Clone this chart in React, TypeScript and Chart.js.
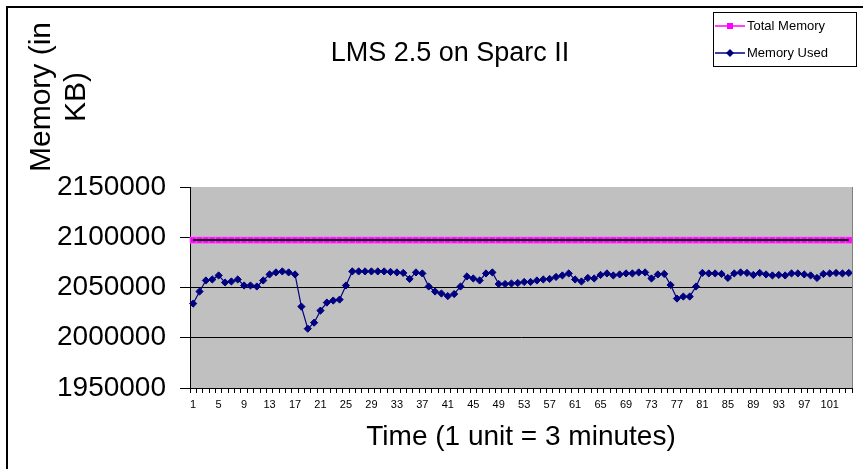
import React, { useEffect, useRef } from "react";
import { Chart, registerables } from "chart.js";

Chart.register(...registerables);

const timeLabels: string[] = [
  "1","2","3","4","5","6","7","8","9","10","11","12","13","14","15","16","17","18","19","20",
  "21","22","23","24","25","26","27","28","29","30","31","32","33","34","35","36","37","38","39","40",
  "41","42","43","44","45","46","47","48","49","50","51","52","53","54","55","56","57","58","59","60",
  "61","62","63","64","65","66","67","68","69","70","71","72","73","74","75","76","77","78","79","80",
  "81","82","83","84","85","86","87","88","89","90","91","92","93","94","95","96","97","98","99","100",
  "101","102","103","104",
];

const memoryUsed: number[] = [
  2034000, 2046000, 2057000, 2058000, 2062000, 2055000, 2056000, 2058000, 2052000, 2052000,
  2051000, 2057000, 2063000, 2065000, 2066000, 2065000, 2063000, 2031000, 2009000, 2015000,
  2027000, 2035000, 2037000, 2038000, 2052000, 2066000, 2066000, 2066000, 2066000, 2066000,
  2066000, 2065500, 2065000, 2064500, 2058500, 2065000, 2064000, 2051000, 2046000, 2044000,
  2041500, 2043500, 2051000, 2061000, 2059000, 2057000, 2064000, 2065000, 2053500, 2053500,
  2054000, 2054500, 2055500, 2055500, 2057000, 2058000, 2058500, 2060500, 2062000, 2064000,
  2058000, 2056000, 2059500, 2059000, 2062500, 2064000, 2062000, 2063000, 2064000, 2064000,
  2065000, 2065000, 2059000, 2063000, 2063500, 2052500, 2039000, 2041000, 2041000, 2051000,
  2064500, 2064000, 2064000, 2063500, 2059500, 2064000, 2065000, 2064500, 2062500, 2064500,
  2063000, 2062000, 2062500, 2062000, 2064000, 2064000, 2063000, 2062000, 2059500, 2063500,
  2064000, 2064500, 2064000, 2064500,
];

const totalMemory: number[] = [
  2097152, 2097152, 2097152, 2097152, 2097152, 2097152, 2097152, 2097152, 2097152, 2097152,
  2097152, 2097152, 2097152, 2097152, 2097152, 2097152, 2097152, 2097152, 2097152, 2097152,
  2097152, 2097152, 2097152, 2097152, 2097152, 2097152, 2097152, 2097152, 2097152, 2097152,
  2097152, 2097152, 2097152, 2097152, 2097152, 2097152, 2097152, 2097152, 2097152, 2097152,
  2097152, 2097152, 2097152, 2097152, 2097152, 2097152, 2097152, 2097152, 2097152, 2097152,
  2097152, 2097152, 2097152, 2097152, 2097152, 2097152, 2097152, 2097152, 2097152, 2097152,
  2097152, 2097152, 2097152, 2097152, 2097152, 2097152, 2097152, 2097152, 2097152, 2097152,
  2097152, 2097152, 2097152, 2097152, 2097152, 2097152, 2097152, 2097152, 2097152, 2097152,
  2097152, 2097152, 2097152, 2097152, 2097152, 2097152, 2097152, 2097152, 2097152, 2097152,
  2097152, 2097152, 2097152, 2097152, 2097152, 2097152, 2097152, 2097152, 2097152, 2097152,
  2097152, 2097152, 2097152, 2097152,
];

const yMin = 1950000;
const yMax = 2150000;
const yStep = 50000;
const gridValues: number[] = [2000000, 2050000, 2100000];

const chartTitle = "LMS 2.5 on Sparc II";
const yTitleLines: string[] = ["Memory (in", "KB)"];
const xTitle = "Time (1 unit = 3 minutes)";
const legendNames: string[] = ["Total Memory", "Memory Used"];

const FONT = "'Liberation Sans', Arial, sans-serif";
const PINK = "#FF00FF";
const NAVY = "#000080";

const decorPlugin = {
  id: "decor",
  beforeDraw(chart: any) {
    const { ctx, chartArea } = chart;
    ctx.save();
    ctx.fillStyle = "#ffffff";
    ctx.fillRect(0, 0, chart.width, chart.height);
    ctx.fillStyle = "#C0C0C0";
    ctx.fillRect(chartArea.left, chartArea.top, chartArea.right - chartArea.left, chartArea.bottom - chartArea.top);
    ctx.restore();
  },
  afterDraw(chart: any) {
    const { ctx, chartArea } = chart;
    ctx.save();
    // plot right edge
    ctx.strokeStyle = "#808080";
    ctx.lineWidth = 1;
    ctx.beginPath();
    ctx.moveTo(Math.round(chartArea.right) + 0.5, chartArea.top);
    ctx.lineTo(Math.round(chartArea.right) + 0.5, chartArea.bottom);
    ctx.stroke();

    // outer border (left and top visible)
    ctx.strokeStyle = "#000000";
    ctx.lineWidth = 2;
    ctx.beginPath();
    ctx.moveTo(7, chart.height + 2);
    ctx.lineTo(7, 7);
    ctx.lineTo(chart.width + 2, 7);
    ctx.stroke();

    // title
    ctx.fillStyle = "#000000";
    ctx.font = `27px ${FONT}`;
    ctx.textAlign = "center";
    ctx.textBaseline = "middle";
    ctx.fillText(chartTitle, 450, 54);

    // y axis title (rotated, two lines)
    ctx.save();
    ctx.translate(0, 97);
    ctx.rotate(-Math.PI / 2);
    ctx.font = `30px ${FONT}`;
    ctx.textAlign = "center";
    ctx.textBaseline = "alphabetic";
    ctx.fillText(yTitleLines[0], 0, 50);
    ctx.fillText(yTitleLines[1], 0, 85);
    ctx.restore();

    // legend
    const lx = 713, ly = 12, lw = 143, lh = 54;
    ctx.fillStyle = "#ffffff";
    ctx.fillRect(lx, ly, lw, lh);
    ctx.strokeStyle = "#000000";
    ctx.lineWidth = 1;
    ctx.strokeRect(lx + 0.5, ly + 0.5, lw, lh);
    const rows = [
      { name: legendNames[0], color: PINK, y: 26, shape: "square" },
      { name: legendNames[1], color: NAVY, y: 53, shape: "diamond" },
    ];
    rows.forEach((r) => {
      ctx.strokeStyle = r.color;
      ctx.lineWidth = 1.5;
      ctx.beginPath();
      ctx.moveTo(715, r.y);
      ctx.lineTo(745, r.y);
      ctx.stroke();
      ctx.fillStyle = r.color;
      if (r.shape === "square") {
        ctx.fillRect(727, r.y - 3, 6, 6);
      } else {
        ctx.beginPath();
        ctx.moveTo(730, r.y - 4);
        ctx.lineTo(734, r.y);
        ctx.lineTo(730, r.y + 4);
        ctx.lineTo(726, r.y);
        ctx.closePath();
        ctx.fill();
      }
      ctx.fillStyle = "#000000";
      ctx.font = `13px ${FONT}`;
      ctx.textAlign = "left";
      ctx.textBaseline = "middle";
      ctx.fillText(r.name, 747, r.y);
    });
    ctx.restore();
  },
};

export default function App() {
  const canvasRef = useRef<HTMLCanvasElement | null>(null);

  useEffect(() => {
    const canvas = canvasRef.current;
    if (!canvas) return;
    const chart = new Chart(canvas, {
      type: "line",
      data: {
        labels: timeLabels,
        datasets: [
          {
            label: legendNames[1],
            data: memoryUsed,
            borderColor: NAVY,
            backgroundColor: NAVY,
            borderWidth: 1.2,
            pointStyle: "rectRot",
            pointRadius: 3.6,
            pointBackgroundColor: NAVY,
            pointBorderColor: NAVY,
            pointBorderWidth: 1,
            tension: 0,
            order: 0,
          },
          {
            label: legendNames[0] + " line",
            data: totalMemory,
            borderColor: "#000000",
            borderWidth: 2,
            pointRadius: 0,
            tension: 0,
            order: 1,
          },
          {
            label: legendNames[0],
            data: totalMemory,
            borderColor: PINK,
            backgroundColor: PINK,
            borderWidth: 6,
            pointStyle: "rect",
            pointRadius: 4.5,
            pointBackgroundColor: PINK,
            pointBorderColor: "#FF66FF",
            pointBorderWidth: 0.6,
            tension: 0,
            order: 2,
          },
        ],
      },
      options: {
        responsive: false,
        animation: false,
        devicePixelRatio: 1,
        layout: { padding: { left: 0, top: 187, right: 11, bottom: 0 } },
        plugins: {
          legend: { display: false },
          title: { display: false },
          tooltip: { enabled: false },
        },
        scales: {
          x: {
            type: "category",
            offset: true,
            afterFit(scale: any) {
              scale.height = 81;
            },
            grid: {
              display: true,
              offset: true,
              drawOnChartArea: false,
              drawTicks: true,
              tickLength: 5,
              tickColor: "#000000",
            },
            border: { display: true, color: "#000000", width: 1 },
            ticks: {
              autoSkip: false,
              maxRotation: 0,
              minRotation: 0,
              padding: 5,
              color: "#000000",
              font: { family: FONT, size: 11 },
              callback: (_v: any, i: number) => (i % 4 === 0 ? timeLabels[i] : ""),
            },
            title: {
              display: true,
              text: xTitle,
              color: "#000000",
              font: { family: FONT, size: 28 },
              padding: { top: 0, bottom: 15 },
            },
          },
          y: {
            min: yMin,
            max: yMax,
            afterFit(scale: any) {
              scale.width = 190;
            },
            grid: {
              drawTicks: true,
              tickLength: 10,
              tickColor: "#000000",
              color: (c: any) => (gridValues.includes(c.tick?.value) ? "#000000" : "rgba(0,0,0,0)"),
              lineWidth: 1,
            },
            border: { display: true, color: "#000000", width: 1 },
            ticks: {
              stepSize: yStep,
              padding: 14,
              color: "#000000",
              font: { family: FONT, size: 28 },
              callback: (v: any) => String(v),
            },
          },
        },
      },
      plugins: [decorPlugin],
    } as any);
    return () => chart.destroy();
  }, []);

  return (
    <div style={{ position: "fixed", left: 0, top: 0, width: 863, height: 469 }}>
      <canvas ref={canvasRef} width={863} height={469} style={{ display: "block" }} />
    </div>
  );
}
